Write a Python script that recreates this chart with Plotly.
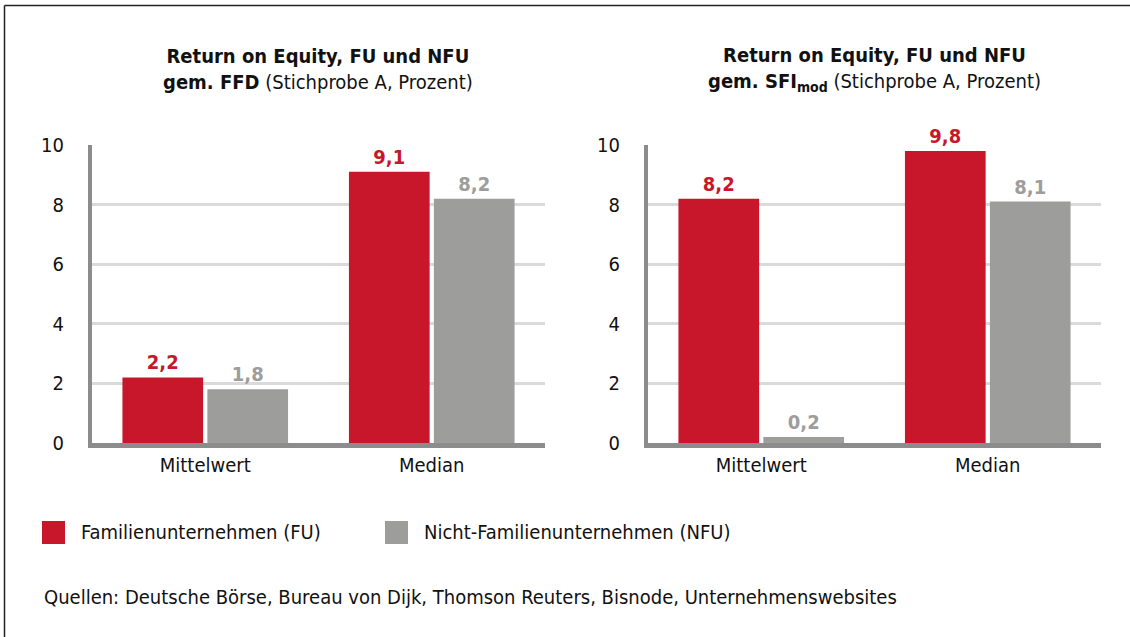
import plotly.graph_objects as go
from plotly.subplots import make_subplots

categories = ["Mittelwert", "Median"]
ffd_fu = [2.2, 9.1]
ffd_nfu = [1.8, 8.2]
sfi_fu = [8.2, 9.8]
sfi_nfu = [0.2, 8.1]
series_names = ["Familienunternehmen (FU)", "Nicht-Familienunternehmen (NFU)"]
y_ticks = [0, 2, 4, 6, 8, 10]
titles = [
    "<b>Return on Equity, FU und NFU</b><br><b>gem. FFD</b> (Stichprobe A, Prozent)",
    "<b>Return on Equity, FU und NFU</b><br><b>gem. SFI<sub>mod</sub></b> (Stichprobe A, Prozent)",
]
source = "Quellen: Deutsche Börse, Bureau von Dijk, Thomson Reuters, Bisnode, Unternehmenswebsites"

RED = "#C8172A"
GRAY = "#9D9D9C"
AXIS = "#8C8C8C"
GRID = "#DADADA"
FONT = "Liberation Sans Narrow, DejaVu Sans Condensed, Roboto, sans-serif"

W, H = 1130, 637


def fmt(v):
    return "<b>" + f"{v:.1f}".replace(".", ",") + "</b>"


fig = make_subplots(rows=1, cols=2)

panels = [(ffd_fu, ffd_nfu), (sfi_fu, sfi_nfu)]
for i, (fu, nfu) in enumerate(panels, start=1):
    for vals, color, name in [(fu, RED, series_names[0]), (nfu, GRAY, series_names[1])]:
        fig.add_trace(
            go.Bar(
                x=categories, y=vals, name=name, marker_color=color,
                marker_line_width=0,
                text=[fmt(v) for v in vals], textposition="outside",
                textfont=dict(color=color, size=20, family=FONT),
                cliponaxis=False, showlegend=False, hoverinfo="skip",
            ),
            row=1, col=i,
        )

y0 = 1 - 443 / H
y1 = 1 - 145 / H
xdoms = [(92 / W, 545 / W), (648 / W, 1101 / W)]

for i, dom in enumerate(xdoms, start=1):
    xa = "xaxis" if i == 1 else f"xaxis{i}"
    ya = "yaxis" if i == 1 else f"yaxis{i}"
    fig.layout[xa].update(
        domain=list(dom), showline=True, linewidth=5, linecolor=AXIS,
        ticks="", tickfont=dict(size=20, color="#111", family=FONT),
        showgrid=False, zeroline=False, fixedrange=True,
    )
    fig.layout[ya].update(
        domain=[y0, y1], range=[0, 10], tickvals=y_ticks,
        showline=True, linewidth=4, linecolor=AXIS,
        showgrid=True, gridcolor=GRID, gridwidth=3, zeroline=False,
        tickfont=dict(size=20, color="#111", family=FONT), ticks="",
        ticklabelstandoff=20, fixedrange=True,
    )

annotations = []
for t, dom in zip(titles, xdoms):
    annotations.append(dict(
        text=t, x=(dom[0] + dom[1]) / 2, y=1 - 69 / H, xref="paper", yref="paper",
        xanchor="center", yanchor="middle", showarrow=False,
        font=dict(size=20, color="#111", family=FONT), align="center",
    ))

# legend
legend_items = [(series_names[0], RED, 42), (series_names[1], GRAY, 385)]
shapes = []
for name, color, xpx in legend_items:
    shapes.append(dict(type="rect", xref="paper", yref="paper",
                       x0=xpx / W, x1=(xpx + 23) / W,
                       y0=1 - 544 / H, y1=1 - 521 / H,
                       fillcolor=color, line_width=0))
    annotations.append(dict(text=name, x=(xpx + 37) / W, y=1 - 532 / H,
                            xref="paper", yref="paper", xanchor="left", yanchor="middle",
                            showarrow=False, font=dict(size=20, color="#111", family=FONT)))

annotations.append(dict(text=source, x=42 / W, y=1 - 597 / H, xref="paper", yref="paper",
                        xanchor="left", yanchor="middle", showarrow=False,
                        font=dict(size=20, color="#111", family=FONT)))

# outer frame (top and left edges visible; right/bottom run off the page)
shapes.append(dict(type="line", xref="paper", yref="paper",
                   x0=4.5 / W, x1=1.0, y0=1 - 5.5 / H, y1=1 - 5.5 / H,
                   line=dict(color="#222", width=1.5)))
shapes.append(dict(type="line", xref="paper", yref="paper",
                   x0=4.5 / W, x1=4.5 / W, y0=0.0, y1=1 - 5.5 / H,
                   line=dict(color="#222", width=1.5)))

fig.update_layout(
    width=W, height=H, margin=dict(l=0, r=0, t=0, b=0, autoexpand=False),
    paper_bgcolor="white", plot_bgcolor="white",
    barmode="group", bargap=0.25, bargroupgap=0.05,
    annotations=annotations, shapes=shapes,
    font=dict(family=FONT, color="#111"),
    hovermode=False,
)

fig.write_html(
    "out.html",
    config={"displayModeBar": False, "staticPlot": True},
    post_script="document.body.style.margin='0';document.body.style.overflow='hidden';",
)
